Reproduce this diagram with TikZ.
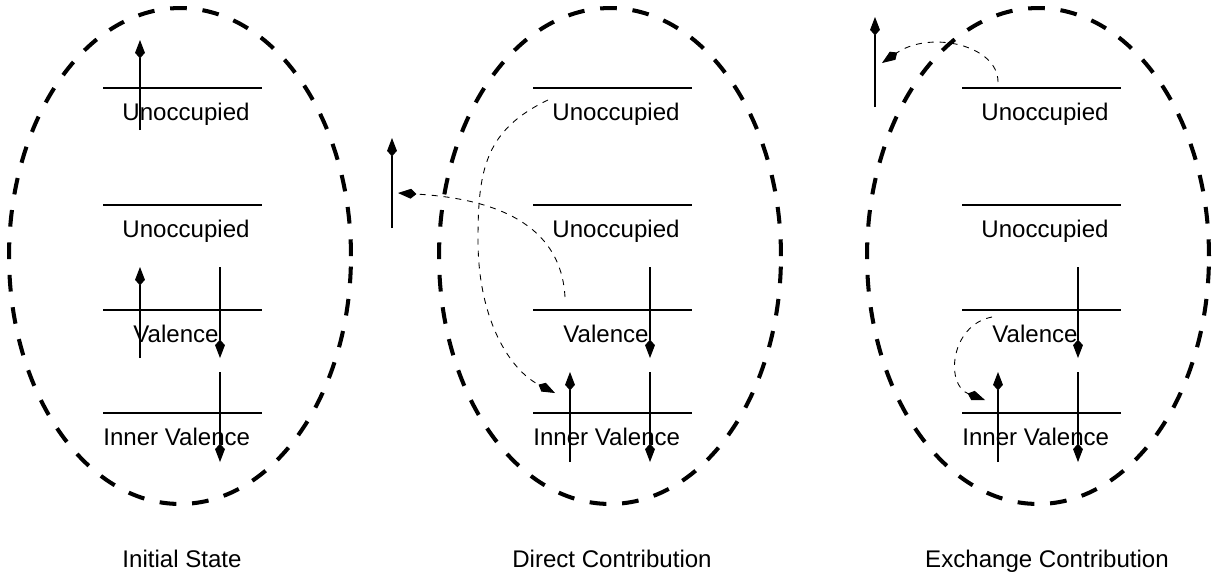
\documentclass[tikz,border=0pt]{standalone}
\usepackage{fontspec}
\setmainfont{Liberation Sans}
\usetikzlibrary{arrows.meta}

\begin{document}
\begin{tikzpicture}[x=0.02cm, y=-0.02cm,
    shell/.style={line width=2.3pt, dash pattern=on 9.5pt off 9pt},
    level/.style={line width=1.3pt},
    lbl/.style={inner sep=0pt, anchor=base, font=\fontsize{13.7}{16}\selectfont},
    spin/.style={line width=0.6pt, -{Kite[length=10.5pt, width=5.6pt, inset=3.2pt]}},
    hop/.style={line width=0.5pt, dash pattern=on 3.4pt off 3.4pt, -{Kite[length=10.5pt, width=5.6pt, inset=3.2pt]}}
]
\useasboundingbox (0,0) rectangle (1213,579);

% the three atoms
\draw[shell] (180,256) ellipse [x radius=3.42cm, y radius=4.96cm];
\draw[shell] (610,256) ellipse [x radius=3.42cm, y radius=4.96cm];
\draw[shell] (1038,256) ellipse [x radius=3.42cm, y radius=4.96cm];

% levels
\draw[level] (103,88) -- (262,88);
\draw[level] (103,205) -- (262,205);
\draw[level] (103,310) -- (262,310);
\draw[level] (103,413) -- (262,413);
\draw[level] (533,88) -- (692,88);
\draw[level] (533,205) -- (692,205);
\draw[level] (533,310) -- (692,310);
\draw[level] (533,413) -- (692,413);
\draw[level] (962,88) -- (1121,88);
\draw[level] (962,205) -- (1121,205);
\draw[level] (962,310) -- (1121,310);
\draw[level] (962,413) -- (1121,413);

% level names
\node[lbl] (ini-u2) at (186,120) {Unoccupied};
\node[lbl] (ini-u1) at (186,237) {Unoccupied};
\node[lbl] (ini-v) at (176,342) {Valence};
\node[lbl, anchor=base west] (ini-iv) at (103,445) {Inner Valence};
\node[lbl] (dir-u2) at (616,120) {Unoccupied};
\node[lbl] (dir-u1) at (616,237) {Unoccupied};
\node[lbl] (dir-v) at (606,342) {Valence};
\node[lbl, anchor=base west] (dir-iv) at (533,445) {Inner Valence};
\node[lbl] (exc-u2) at (1045,120) {Unoccupied};
\node[lbl] (exc-u1) at (1045,237) {Unoccupied};
\node[lbl] (exc-v) at (1035,342) {Valence};
\node[lbl, anchor=base west] (exc-iv) at (962,445) {Inner Valence};

% captions
\node[lbl] (ini) at (182,567) {Initial State};
\node[lbl] (dir) at (612,567) {Direct Contribution};
\node[lbl] (exc) at (1047,567) {Exchange Contribution};

% electrons
\coordinate (ini-e1a) at (140,130);  \coordinate (ini-e1b) at (140,40);
\coordinate (ini-e2a) at (140,358);  \coordinate (ini-e2b) at (140,267);
\coordinate (ini-e3a) at (220,267);  \coordinate (ini-e3b) at (220,358);
\coordinate (ini-e4a) at (220,372);  \coordinate (ini-e4b) at (220,462);
\coordinate (dir-e1a) at (392,228);  \coordinate (dir-e1b) at (392,138);
\coordinate (dir-e3a) at (650,267);  \coordinate (dir-e3b) at (650,358);
\coordinate (dir-e2a) at (570,462);  \coordinate (dir-e2b) at (570,372);
\coordinate (dir-e4a) at (650,372);  \coordinate (dir-e4b) at (650,462);
\coordinate (exc-e1a) at (875,107);  \coordinate (exc-e1b) at (875,17);
\coordinate (exc-e3a) at (1078,267); \coordinate (exc-e3b) at (1078,358);
\coordinate (exc-e2a) at (998,462);  \coordinate (exc-e2b) at (998,372);
\coordinate (exc-e4a) at (1078,372); \coordinate (exc-e4b) at (1078,462);

\draw[spin] (ini-e1a) -- (ini-e1b);
\draw[spin] (ini-e2a) -- (ini-e2b);
\draw[spin] (ini-e3a) -- (ini-e3b);
\draw[spin] (ini-e4a) -- (ini-e4b);
\draw[spin] (dir-e1a) -- (dir-e1b);
\draw[spin] (dir-e2a) -- (dir-e2b);
\draw[spin] (dir-e3a) -- (dir-e3b);
\draw[spin] (dir-e4a) -- (dir-e4b);
\draw[spin] (exc-e1a) -- (exc-e1b);
\draw[spin] (exc-e2a) -- (exc-e2b);
\draw[spin] (exc-e3a) -- (exc-e3b);
\draw[spin] (exc-e4a) -- (exc-e4b);

% transitions
\coordinate (dir-h1a) at (565,297);  \coordinate (dir-h1b) at (398,193);
\coordinate (dir-h2a) at (548,100);  \coordinate (dir-h2b) at (555,393);
\coordinate (exc-h1a) at (998,82);   \coordinate (exc-h1b) at (882,63);
\coordinate (exc-h2a) at (992,317);  \coordinate (exc-h2b) at (985,400);

\draw[hop] (dir-h1a) .. controls (562,240) and (520,200) .. (dir-h1b);
\draw[hop] (dir-h2a) .. controls (485,130) and (478,170) .. (478,240)
    .. controls (478,320) and (510,370) .. (dir-h2b);
\draw[hop] (exc-h1a) .. controls (998,45) and (930,30) .. (exc-h1b);
\draw[hop] (exc-h2a) .. controls (950,325) and (945,385) .. (exc-h2b);
\end{tikzpicture}
\end{document}
